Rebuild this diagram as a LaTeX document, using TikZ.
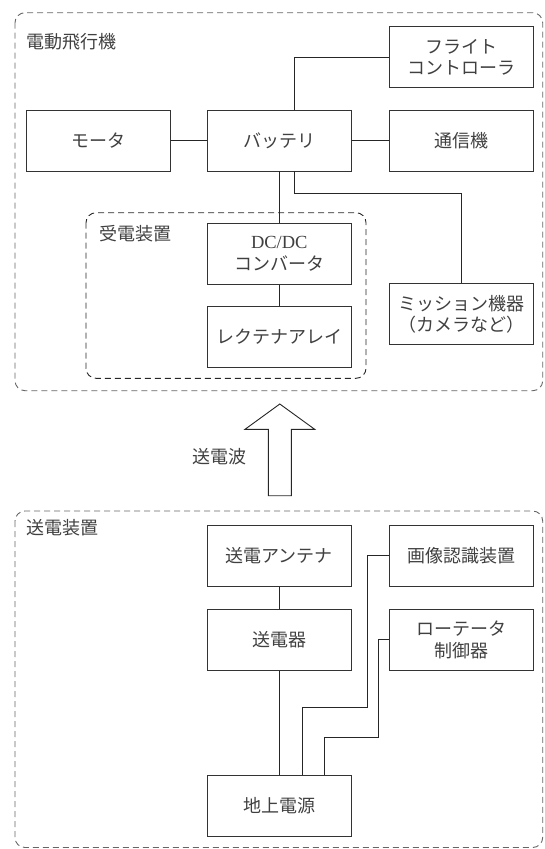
\documentclass[tikz,border=0pt]{standalone}
\usepackage{fontspec}
\setmainfont{Liberation Serif}
\newfontfamily\jp{Noto Sans CJK JP}
\newfontfamily\lat{Liberation Serif}
\tikzset{
  blk/.style={draw=black!80, line width=0.9pt, minimum width=144pt, minimum height=61pt,
    inner sep=0pt, align=center, font=\jp\fontsize{18}{21.5}\selectfont, text=black!75},
  wire/.style={draw=black!85, line width=0.9pt},
  grp/.style={draw=black!60, dash pattern=on 6pt off 4pt, rounded corners=10pt, line width=0.9pt},
  igrp/.style={draw=black!85, dash pattern=on 6pt off 4pt, rounded corners=10pt, line width=0.9pt},
  lbl/.style={font=\jp\fontsize{18}{21.5}\selectfont, text=black!75, inner sep=0pt, anchor=west},
}
\begin{document}
\begin{tikzpicture}[x=1pt,y=-1pt]
\useasboundingbox (0,0) rectangle (544,849);
% group frames
\draw[grp] (15,12.7) rectangle (542.7,390.7);
\draw[igrp] (86,212.7) rectangle (366,378.3);
\draw[grp] (15,511) rectangle (542.7,847.5);
% group labels
\node[lbl] (lfly) at (26,42) {電動飛行機};
\node[lbl] (lrx) at (99,234) {受電装置};
\node[lbl] (lwave) at (192,456.7) {送電波};
\node[lbl] (ltx) at (26,528) {送電装置};
% aircraft blocks
\node[blk] (flight) at (461.2,57.2) {フライト\\コントローラ};
\node[blk] (motor) at (98.3,140.5) {モータ};
\node[blk] (battery) at (279.3,140.5) {バッテリ};
\node[blk] (comm) at (461.2,140.5) {通信機};
\node[blk] (dcdc) at (279.3,253.7) {{\lat\fontsize{18.5}{21.5}\selectfont DC/DC}\\コンバータ};
\node[blk] (rect) at (279.3,337) {レクテナアレイ};
\node[blk] (mission) at (461.2,314.2) {ミッション機器\\（カメラなど）};
% ground blocks
\node[blk] (antenna) at (279.3,555.9) {送電アンテナ};
\node[blk] (image) at (461.2,555.9) {画像認識装置};
\node[blk] (sender) at (279.3,639.7) {送電器};
\node[blk] (rotator) at (461.2,639.7) {ローテータ\\制御器};
\node[blk] (ground) at (279.3,805.9) {地上電源};
% wires aircraft
\draw[wire] (motor.east) -- (battery.west);
\draw[wire] (battery.east) -- (comm.west);
\draw[wire] ([xshift=15.4pt]battery.north) |- (flight.west);
\draw[wire] (battery.south) -- (dcdc.north);
\draw[wire] ([xshift=15.4pt]battery.south) -- ++(0,22.2) -| (mission.north);
\draw[wire] (dcdc.south) -- (rect.north);
% wires ground
\draw[wire] (antenna.south) -- (sender.north);
\draw[wire] (sender.south) -- (ground.north);
\draw[wire] (image.west) -| (367.7,707.7) -| ([xshift=22.7pt]ground.north);
\draw[wire] (rotator.west) -| (378,737.3) -| ([xshift=45.4pt]ground.north);
% power wave arrow
\draw[wire, fill=white, line join=miter] (279.8,404) -- (314.7,429.3) -- (291.3,429.3) -- (291.3,495.7)
  -- (268.3,495.7) -- (268.3,429.3) -- (245,429.3) -- cycle;
\end{tikzpicture}
\end{document}
